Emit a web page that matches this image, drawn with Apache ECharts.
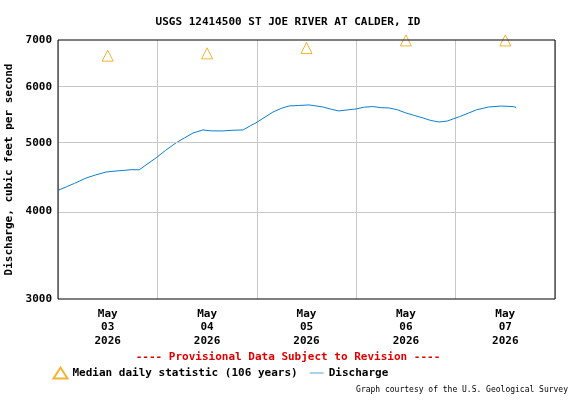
<!DOCTYPE html>
<html>
<head>
<meta charset="UTF-8">
<script src="https://cdn.jsdelivr.net/npm/echarts@6/dist/echarts.min.js"></script>
<style>body{margin:0;background:#fff}#main{width:576px;height:400px}</style>
</head>
<body>
<div id="main"></div>
<script>
// hours since May 03 00:00
var flowHours = [0.2, 2, 4, 6.8, 9, 11.6, 14, 16, 17.8, 19.6, 21, 23.7, 26, 28.5, 30.5, 32.6, 35, 37, 39.8, 42, 44.7, 46.5, 47.8, 50, 51.9, 54, 55.8, 58, 60.6, 62, 64, 66, 67.8, 70, 72, 74, 76, 78, 80, 82, 84, 86, 88.1, 90, 92, 94, 95.4, 97, 99.2, 101, 104, 107, 109.9, 110.6];
var flowValues = [4285, 4330, 4380, 4457, 4500, 4545, 4560, 4570, 4580, 4578, 4640, 4761, 4880, 5000, 5080, 5164, 5216, 5200, 5199, 5210, 5216, 5290, 5338, 5440, 5530, 5600, 5641, 5650, 5660, 5645, 5622, 5580, 5550, 5570, 5586, 5620, 5630, 5610, 5604, 5570, 5514, 5470, 5425, 5380, 5353, 5370, 5407, 5450, 5514, 5570, 5622, 5640, 5630, 5615];
var medianHours = [12, 36, 60, 84, 108];
var medianValues = [6650, 6700, 6820, 6990, 6990];
var yTicks = [3000, 4000, 5000, 6000, 7000];
var dayLabels = ['May\n03\n2026', 'May\n04\n2026', 'May\n05\n2026', 'May\n06\n2026', 'May\n07\n2026'];

var lg = function (v) { return Math.log10(v); };
var flow = flowHours.map(function (h, i) { return [h, lg(flowValues[i])]; });
var med = medianHours.map(function (h, i) { return [h, lg(medianValues[i])]; });
var font = 'DejaVu Sans Mono';

var chart = echarts.init(document.getElementById('main'));
chart.setOption({
  animation: false,
  textStyle: { fontFamily: font },
  title: { text: 'USGS 12414500 ST JOE RIVER AT CALDER, ID', left: 'center', top: 12,
    textStyle: { fontFamily: font, fontSize: 11, fontWeight: 'bold', color: '#000' } },
  grid: { left: 58, right: 21, top: 40, bottom: 101, outerBoundsMode: 'none', containLabel: false },
  xAxis: {
    type: 'value', min: 0, max: 120, interval: 24,
    axisLine: { show: false }, axisTick: { show: false },
    splitLine: { show: true, lineStyle: { color: '#c8c8c8', width: 1 } },
    axisLabel: { customValues: medianHours, formatter: function (v) { return dayLabels[medianHours.indexOf(v)]; },
      color: '#000', fontFamily: font, fontSize: 11, fontWeight: 'bold', lineHeight: 13.5, margin: 8 }
  },
  yAxis: {
    type: 'value', min: lg(3000), max: lg(7000),
    name: 'Discharge, cubic feet per second', nameLocation: 'middle', nameGap: 41,
    nameTextStyle: { fontFamily: font, fontSize: 11, fontWeight: 'bold', color: '#000' },
    axisLine: { show: false }, axisTick: { show: false },
    splitLine: { show: false },
    axisLabel: { customValues: yTicks.map(lg), formatter: function (v) { return Math.round(Math.pow(10, v)); },
      color: '#000', fontFamily: font, fontSize: 11, fontWeight: 'bold', margin: 6 }
  },
  legend: {
    top: 360, left: 46, itemGap: 12, itemWidth: 14, itemHeight: 11,
    textStyle: { fontFamily: font, fontSize: 11, fontWeight: 'bold', color: '#000' },
    data: [{ name: 'Median daily statistic (106 years)', icon: 'triangle' },
           { name: 'Discharge', icon: 'path://M0,0H20V1H0Z' }]
  },
  graphic: [
    { type: 'rect', shape: { x: 58, y: 40, width: 497, height: 259 }, style: { fill: 'none', stroke: '#000', lineWidth: 1 }, z: 100 },
    { type: 'text', left: 'center', top: 352, style: { text: '---- Provisional Data Subject to Revision ----', fill: '#e00000', font: 'bold 11px DejaVu Sans Mono' } },
    { type: 'text', right: 8, top: 386, style: { text: 'Graph courtesy of the U.S. Geological Survey', fill: '#000', font: '8px DejaVu Sans Mono' } }
  ],
  series: [
    { name: 'Discharge', type: 'line', data: flow, symbol: 'none', lineStyle: { color: '#0a7fcf', width: 1 }, itemStyle: { color: '#0a7fcf' },
      markLine: { silent: true, symbol: 'none', label: { show: false },
        lineStyle: { color: '#c8c8c8', type: 'solid', width: 1 },
        data: [4000, 5000, 6000].map(function (v) { return { yAxis: lg(v) }; }) } },
    { name: 'Median daily statistic (106 years)', type: 'scatter', data: med, symbol: 'triangle', symbolSize: 11,
      itemStyle: { color: 'none', borderColor: '#f0a000', borderWidth: 1 } }
  ]
});
</script>
</body>
</html>
